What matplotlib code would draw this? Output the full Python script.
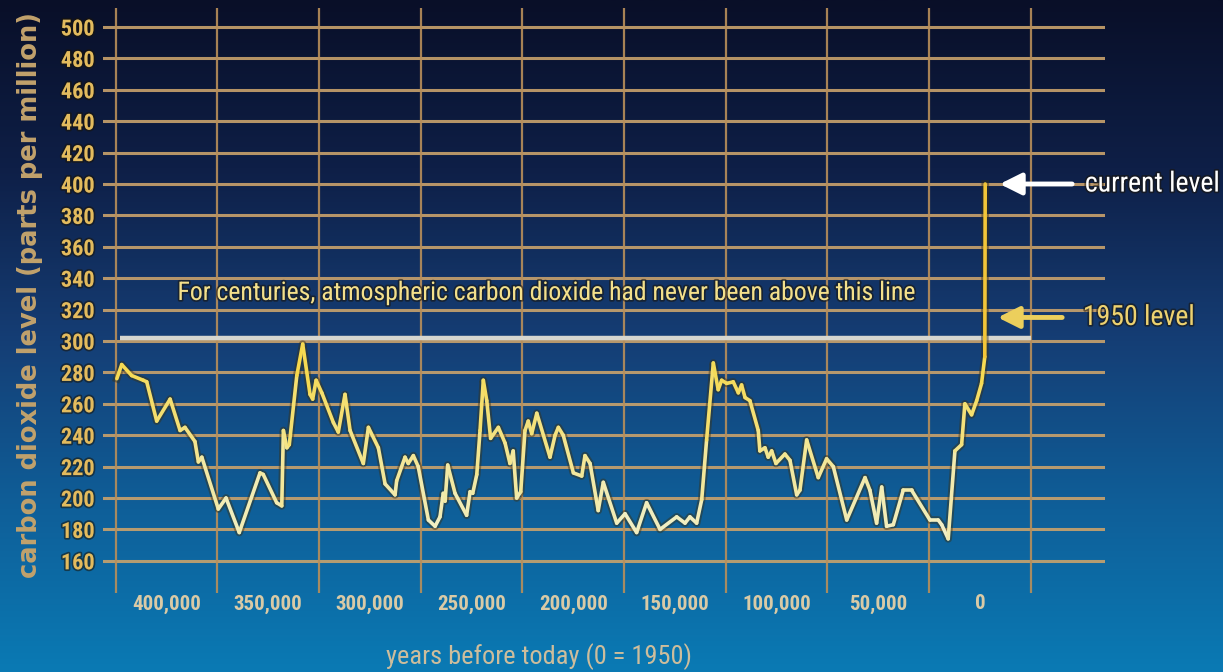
import numpy as np
import matplotlib
matplotlib.use("Agg")
import matplotlib.pyplot as plt
import matplotlib.patheffects as pe
from matplotlib.collections import LineCollection
from matplotlib.colors import LinearSegmentedColormap, Normalize
from matplotlib import font_manager as fm

# ---------------- data ----------------
years_before = [424400, 422000, 417100, 411400, 409700, 404800, 398200, 393300, 390900, 386000,
                384300, 382600, 374500, 370700, 364200, 354000, 352400, 345800, 343300, 342500,
                340800, 339600, 335900, 333000, 329400, 328100, 326400, 323600, 317900, 315500,
                312200, 309700, 303200, 300700, 295800, 292500, 287600, 286800, 282700, 281100,
                278600, 276200,
                271200, 267900, 265500, 263900, 263000, 261700, 258100, 252400, 250700, 249400,
                247400, 245800, 244200, 242500, 240600, 236800, 233500, 231100, 229500, 227800,
                225800, 223700, 222100, 220400, 217900, 211400, 208900, 207300, 204900, 199900,
                195800, 194200, 191700, 187700, 185200, 178600, 174500, 168800, 163900, 157300,
                149100, 145000, 142600, 139300, 136800, 134400, 131100,
                128700, 127000, 124500, 121300, 118800, 117200, 115500, 113100, 109000, 108200,
                105700, 104100, 102400, 100300, 95900, 93400, 90100, 88500, 85200, 79500,
                75400, 72100, 65500, 56500, 54100, 50800, 48300, 45900, 42600, 37700,
                33600, 24600, 20500, 18800, 15600, 12300, 9000, 7400, 4100, 1600,
                -800, -2400, -2600]
co2_ppm = [276, 285, 278, 275, 274, 249, 263, 243, 245, 236,
           223, 226, 193, 200, 178, 216, 215, 197, 195, 243,
           232, 234, 278, 298, 266, 263, 275, 267, 248, 242,
           266, 243, 222, 245, 232, 209, 202, 211, 226, 222,
           227, 220,
           186, 182, 188, 203, 198, 221, 203, 189, 204, 203,
           215, 243, 275, 262, 238, 245, 235, 222, 230, 200,
           204, 243, 249, 241, 254, 226, 240, 245, 240, 216,
           214, 227, 222, 192, 210, 184, 190, 178, 197, 180,
           188, 184, 188, 184, 199, 237, 286,
           269, 275, 273, 274, 267, 272, 264, 262, 243, 230,
           232, 226, 230, 222, 228, 224, 202, 205, 237, 213,
           225, 220, 186, 213, 205, 184, 207, 182, 183, 205,
           205, 186, 186, 183, 174, 230, 234, 260, 253, 262,
           273, 290, 400]

x_tick_values = [400000, 350000, 300000, 250000, 200000, 150000, 100000, 50000, 0]
x_tick_labels = ["400,000", "350,000", "300,000", "250,000", "200,000",
                 "150,000", "100,000", "50,000", "0"]
x_grid_values = [425000, 375000, 325000, 275000, 225000, 175000, 125000, 75000, 25000, -25000]
y_tick_values = list(range(160, 501, 20))

threshold_ppm = 302
threshold_span = [423000, -25000]
current_level = 400
level_1950 = 315

title_text = "For centuries, atmospheric carbon dioxide had never been above this line"
x_label = "years before today (0 = 1950)"
y_label = "carbon dioxide level (parts per million)"

# ---------------- fonts ----------------
names = {f.name for f in fm.fontManager.ttflist}
def pick(*cands):
    for c in cands:
        if c in names:
            return c
    return "DejaVu Sans"
NARROW = pick("Liberation Sans Narrow", "Roboto Condensed", "Open Sans Condensed", "Liberation Sans")
glow = [pe.withStroke(linewidth=2.5, foreground="#1a1408", alpha=0.55)]

# ---------------- figure ----------------
W, H = 1223, 672
fig = plt.figure(figsize=(W / 100, H / 100), dpi=100)

# background gradient
bg = fig.add_axes([0, 0, 1, 1], zorder=0)
bg_cmap = LinearSegmentedColormap.from_list(
    "bg", [(0.0, "#090f28"), (0.25, "#0e1f47"), (0.5, "#153d74"),
           (0.75, "#0f5e98"), (1.0, "#0a7ab4")])
grad = np.linspace(0, 1, 256).reshape(-1, 1)
bg.imshow(grad, aspect="auto", cmap=bg_cmap, extent=[0, 1, 0, 1], origin="upper")
bg.set_axis_off()

left, right, top, bottom = 103, 1105, 8, 593
ax = fig.add_axes([left / W, (H - bottom) / H, (right - left) / W, (bottom - top) / H], zorder=1)
ax.set_facecolor("none")
ax.set_xlim(431200, -61500)
ax.set_ylim(139.5, 512.1)
for s in ax.spines.values():
    s.set_visible(False)

# grid
for yv in y_tick_values:
    ax.axhline(yv, color="#c9a26c", lw=2.2, alpha=0.9, zorder=1)
for xv in x_grid_values:
    ax.axvline(xv, color="#b98f5a", lw=1.6, alpha=0.9, zorder=1)

ax.set_xticks(x_tick_values)
ax.set_xticklabels(x_tick_labels)
ax.set_yticks(y_tick_values)
ax.set_yticklabels([str(v) for v in y_tick_values])
ax.tick_params(axis="both", length=0)
ax.tick_params(axis="y", pad=6)
ax.tick_params(axis="x", pad=1)
for lab in ax.get_yticklabels():
    lab.set_fontfamily(NARROW)
    lab.set_fontweight("bold")
    lab.set_fontsize(16)
    lab.set_color("#e3bb5e")
    lab.set_path_effects(glow)
for lab in ax.get_xticklabels():
    lab.set_fontfamily(NARROW)
    lab.set_fontweight("bold")
    lab.set_fontsize(15)
    lab.set_color("#d9caa6")

# threshold line
ax.plot(threshold_span, [threshold_ppm, threshold_ppm], color="#d6d6d0", lw=3.2,
        solid_capstyle="butt", zorder=3)

ax.text(213400, 330.6, title_text, ha="center", va="center", fontsize=18.5,
        family=NARROW, color="#f3e08c", zorder=5, path_effects=glow)

# data line with glow and value-based colour
x = np.array(years_before, dtype=float)
y = np.array(co2_ppm, dtype=float)
ax.plot(x, y, color="#3a3010", lw=5.5, alpha=0.45, zorder=4, solid_joinstyle="round")
pts = np.column_stack([x, y]).reshape(-1, 1, 2)
segs = np.concatenate([pts[:-1], pts[1:]], axis=1)
line_cmap = LinearSegmentedColormap.from_list(
    "co2", [(0.0, "#f1efc6"), (0.5, "#f6d84a"), (1.0, "#f0b428")])
mid = (y[:-1] + y[1:]) / 2
lc = LineCollection(segs, cmap=line_cmap, norm=Normalize(180, 400), lw=2.6,
                    zorder=5, capstyle="round", joinstyle="round")
lc.set_array(mid)
ax.add_collection(lc)

# arrows and labels
ax.annotate("", xy=(-8400, current_level), xytext=(-46700, current_level),
            arrowprops=dict(arrowstyle="-|>,head_length=1.3,head_width=0.65",
                            color="white", lw=3.5), zorder=6)
ax.text(-51600, current_level, "current level", ha="left", va="center",
        fontsize=20, family=NARROW, color="white", zorder=6, path_effects=glow)
ax.annotate("", xy=(-7400, level_1950), xytext=(-41800, level_1950),
            arrowprops=dict(arrowstyle="-|>,head_length=1.3,head_width=0.65",
                            color="#eccf5c", lw=3.5), zorder=6)
ax.text(-50600, level_1950, "1950 level", ha="left", va="center",
        fontsize=20, family=NARROW, color="#edd271", zorder=6, path_effects=glow)

# axis titles
fig.text(30 / W, 1 - 295 / H, y_label, rotation=90, ha="center", va="center",
         fontsize=18.5, family="DejaVu Sans", fontweight="bold", color="#c2a26c")
fig.text(539 / W, 1 - 657 / H, x_label, ha="center", va="center",
         fontsize=19, family=NARROW, color="#cdbd9c")

fig.savefig("out.png", dpi=100)
